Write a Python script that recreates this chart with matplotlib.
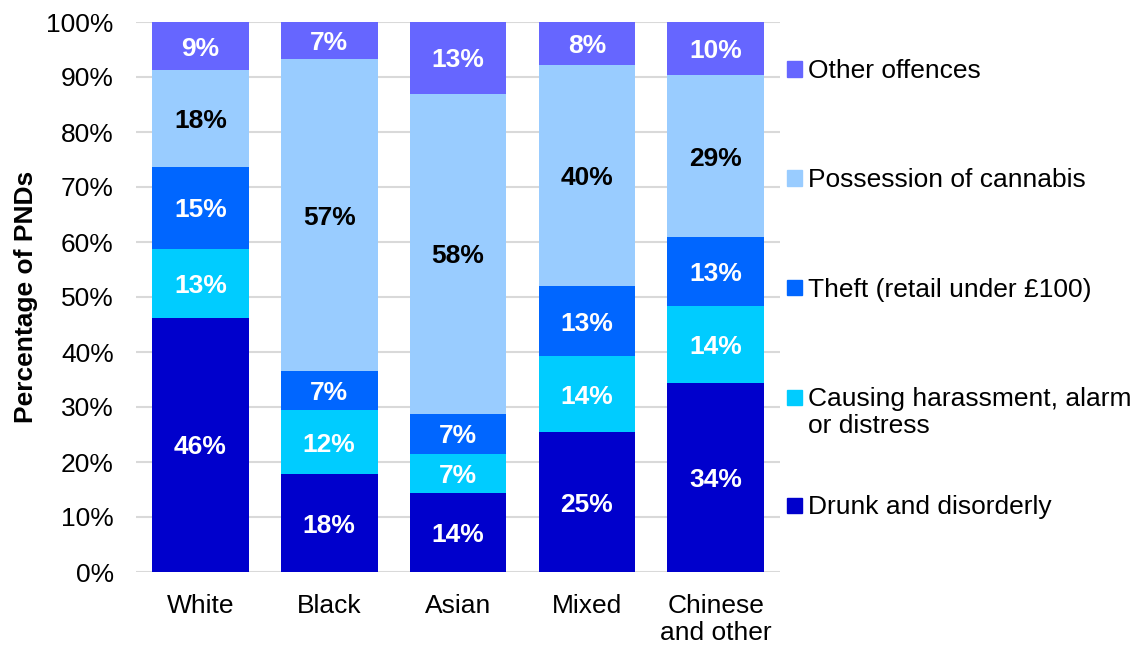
import matplotlib.pyplot as plt
import numpy as np

plt.rcParams['font.family'] = ['Liberation Sans', 'DejaVu Sans']

groups = ['White', 'Black', 'Asian', 'Mixed', 'Chinese\nand other']

# offence shares (%) per ethnic group, stacked bottom to top
drunk = [46.2, 17.8, 14.4, 25.4, 34.4]
harassment = [12.6, 11.6, 7.1, 13.8, 13.9]
theft = [14.8, 7.2, 7.2, 12.8, 12.6]
cannabis = [17.6, 56.6, 58.3, 40.2, 29.4]
other = [8.8, 6.8, 13.0, 7.8, 9.7]

series = [
    ('Drunk and disorderly', drunk, '#0000CC', 'white'),
    ('Causing harassment, alarm\nor distress', harassment, '#00CCFF', 'white'),
    ('Theft (retail under £100)', theft, '#0066FF', 'white'),
    ('Possession of cannabis', cannabis, '#99CCFF', 'black'),
    ('Other offences', other, '#6666FF', 'white'),
]

fs = 19

fig = plt.figure(figsize=(11.4, 6.46), dpi=100)
ax = fig.add_axes([136 / 1140, 1 - 572 / 646, 644 / 1140, 550 / 646])

x = np.arange(len(groups))
bottom = np.zeros(len(groups))
for name, vals, color, txt in series:
    vals = np.array(vals)
    ax.bar(x, vals, 0.75, bottom=bottom, color=color, zorder=2)
    for xi, b, v in zip(x, bottom, vals):
        ax.text(xi, b + v / 2, f'{v:.0f}%', ha='center', va='center_baseline',
                color=txt, fontsize=fs, fontweight='bold', zorder=3)
    bottom += vals

ax.set_xlim(-0.5, len(groups) - 0.5)
ax.set_ylim(0, 100)
ax.set_yticks(np.arange(0, 101, 10))
ax.set_yticklabels([f'{t}%' for t in range(0, 101, 10)])
ax.set_xticks(x)
ax.set_xticklabels(groups, linespacing=1.12)
ax.tick_params(axis='y', length=0, pad=16, labelsize=fs)
ax.tick_params(axis='x', length=0, pad=16, labelsize=fs)
ax.yaxis.grid(True, color='#D9D9D9', linewidth=1.5, zorder=0)
ax.set_axisbelow(True)
for s in ax.spines.values():
    s.set_visible(False)
ax.set_ylabel('Percentage of PNDs', fontsize=fs, fontweight='bold', labelpad=6)

# legend, top entry first
leg_y = [69, 178, 288, 397, 505]
for (name, vals, color, txt), y in zip(series[::-1], leg_y):
    fig.patches.append(plt.Rectangle((787 / 1140, 1 - (y + 7.5) / 646), 15 / 1140, 15 / 646,
                                     transform=fig.transFigure, color=color))
    fig.text(808 / 1140, 1 - (y - 10) / 646, name, fontsize=fs, va='top', ha='left',
             linespacing=1.14)

fig.savefig('out.png', dpi=100)
